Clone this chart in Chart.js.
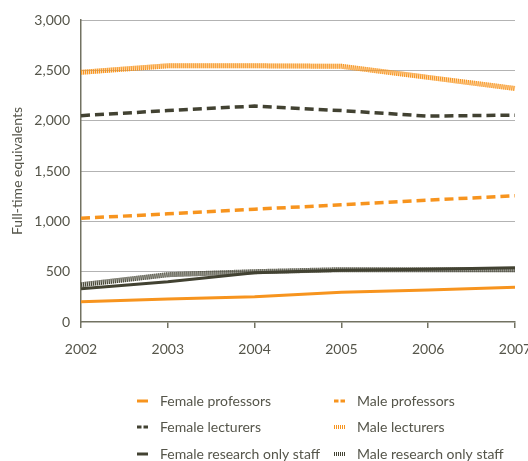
<!DOCTYPE html>
<html>
<head>
<meta charset="utf-8">
<script src="https://cdn.jsdelivr.net/npm/chart.js@4"></script>
<style>
  html, body { margin: 0; padding: 0; background: #fff; }
  #wrap { width: 528px; height: 461px; position: relative; }
</style>
</head>
<body>
<div id="wrap"><canvas id="c" width="528" height="461"></canvas></div>
<script>
// Academic staff by sex and type, full-time equivalents
const years = ['2002', '2003', '2004', '2005', '2006', '2007'];
const femaleProfessors = [200, 228, 250, 295, 318, 345];
const maleProfessors = [1030, 1075, 1120, 1165, 1210, 1255];
const femaleLecturers = [2050, 2100, 2145, 2100, 2045, 2055];
const maleLecturers = [2480, 2545, 2545, 2540, 2430, 2320];
const femaleResearch = [330, 400, 490, 515, 525, 540];
const maleResearch = [370, 470, 500, 520, 520, 520];
const yTicks = [0, 500, 1000, 1500, 2000, 2500, 3000];

const ORANGE = '#f7941e';
const DARK = '#424232';
const TEXT = '#55554a';
const AXIS = '#727262';
const FONT = 'Lato, "Open Sans", sans-serif';
const FS = 14;

function series(label, data, color, kind) {
  const d = {
    label, data,
    borderColor: color,
    backgroundColor: color,
    fill: false,
    tension: 0,
    pointRadius: 0,
    borderCapStyle: 'butt',
    kind
  };
  if (kind === 'solid') { d.borderWidth = 3; d.borderDash = []; }
  if (kind === 'dash') { d.borderWidth = 3.5; d.borderDash = [9, 5]; }
  if (kind === 'stripe') { d.borderWidth = 5; d.borderDash = [1, 1]; }
  return d;
}

const datasets = [
  series('Female professors', femaleProfessors, ORANGE, 'solid'),
  series('Male professors', maleProfessors, ORANGE, 'dash'),
  series('Female lecturers', femaleLecturers, DARK, 'dash'),
  series('Male lecturers', maleLecturers, ORANGE, 'stripe'),
  series('Female research only staff', femaleResearch, DARK, 'solid'),
  series('Male research only staff', maleResearch, DARK, 'stripe')
];

// pale underlay beneath striped lines
const stripeUnderlay = {
  id: 'stripeUnderlay',
  beforeDatasetDraw(chart, args) {
    const ds = chart.data.datasets[args.index];
    if (ds.kind !== 'stripe') return;
    const pts = args.meta.data;
    const ctx = chart.ctx;
    ctx.save();
    ctx.strokeStyle = ds.borderColor === ORANGE ? 'rgba(247,148,30,0.35)' : 'rgba(66,66,50,0.3)';
    ctx.lineWidth = 5;
    ctx.beginPath();
    pts.forEach((p, i) => i ? ctx.lineTo(p.x, p.y) : ctx.moveTo(p.x, p.y));
    ctx.stroke();
    ctx.restore();
  }
};

// two-column legend below the plot
const gridLegend = {
  id: 'gridLegend',
  afterDraw(chart) {
    const ctx = chart.ctx;
    const cols = [137, 334];
    const rows = [401, 427, 454];
    ctx.save();
    ctx.font = FS + 'px ' + FONT;
    ctx.textBaseline = 'middle';
    chart.data.datasets.forEach((ds, i) => {
      const x = cols[i % 2];
      const y = rows[Math.floor(i / 2)];
      ctx.strokeStyle = ds.borderColor;
      ctx.lineCap = 'butt';
      if (ds.kind === 'solid') { ctx.lineWidth = 3; ctx.setLineDash([]); }
      if (ds.kind === 'dash') { ctx.lineWidth = 3; ctx.setLineDash([4.5, 2]); }
      if (ds.kind === 'stripe') { ctx.lineWidth = 4; ctx.setLineDash([1, 1]); }
      ctx.beginPath();
      ctx.moveTo(x, y);
      ctx.lineTo(x + 11, y);
      ctx.stroke();
      ctx.setLineDash([]);
      ctx.fillStyle = TEXT;
      ctx.fillText(ds.label, x + 23, y);
    });
    ctx.restore();
  }
};

new Chart(document.getElementById('c'), {
  type: 'line',
  data: { labels: years, datasets },
  plugins: [stripeUnderlay, gridLegend],
  options: {
    responsive: false,
    animation: false,
    layout: { padding: { top: 20, right: 13, left: 0, bottom: 0 } },
    plugins: { legend: { display: false }, tooltip: { enabled: false } },
    scales: {
      x: {
        type: 'category',
        offset: false,
        grid: { drawOnChartArea: false, drawTicks: true, tickLength: 6, color: AXIS, lineWidth: 1.5 },
        border: { display: true, color: AXIS, width: 1.5 },
        ticks: { color: TEXT, font: { family: FONT, size: FS }, padding: 13, maxRotation: 0, autoSkip: false },
        afterFit(s) { s.height = 139; s.paddingLeft = 0; s.paddingRight = 0; }
      },
      y: {
        min: 0, max: 3000,
        afterBuildTicks(s) { s.ticks = yTicks.map(v => ({ value: v })); },
        grid: {
          drawTicks: false,
          color: ctx => ctx.tick && ctx.tick.value === 0 ? 'rgba(0,0,0,0)' : '#666',
          lineWidth: 1
        },
        border: { display: true, color: AXIS, width: 1.5, dash: [1, 1] },
        ticks: {
          color: TEXT, font: { family: FONT, size: FS }, padding: 11,
          callback: v => Number(v).toLocaleString('en-US')
        },
        title: { display: true, text: 'Full-time equivalents', color: TEXT, font: { family: FONT, size: FS }, padding: { top: 9, bottom: 0 } },
        afterFit(s) { s.width = 81; }
      }
    }
  }
});
</script>
</body>
</html>
